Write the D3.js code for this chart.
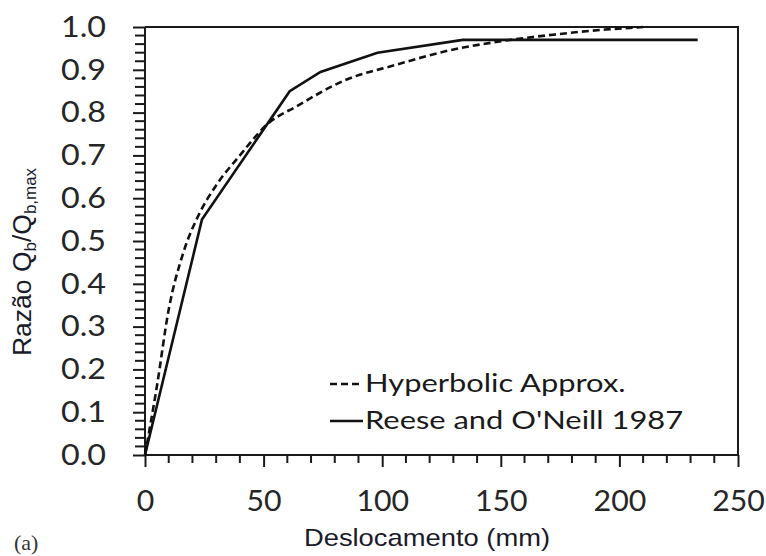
<!DOCTYPE html>
<html>
<head>
<meta charset="utf-8">
<script src="https://cdn.jsdelivr.net/npm/d3@7"></script>
<style>
  body { margin: 0; background: #fff; }
  svg { display: block; }
</style>
</head>
<body>
<div id="chart"></div>
<script>
// values
var hypX = [0, 5, 10, 16, 23, 30, 40, 52, 64, 84, 106, 128, 148, 172, 194, 210];
var hypY = [0, 0.16, 0.34, 0.47, 0.565, 0.63, 0.70, 0.775, 0.815, 0.875, 0.912, 0.945, 0.965, 0.982, 0.994, 1.0];
var reeseX = [0, 24, 61, 74, 98, 134, 233];
var reeseY = [0, 0.55, 0.85, 0.895, 0.94, 0.97, 0.97];
var xTicks = [0, 50, 100, 150, 200, 250];
var yTicks = [0, 0.1, 0.2, 0.3, 0.4, 0.5, 0.6, 0.7, 0.8, 0.9, 1.0];
var legendLabels = ["Hyperbolic Approx.", "Reese and O'Neill 1987"];

var width = 766, height = 556;
var tickFont = "Lato, 'Open Sans', sans-serif";
var titleFont = "'Liberation Sans', Arial, sans-serif";

var svg = d3.select("#chart").append("svg")
  .attr("width", width)
  .attr("height", height);

var x = d3.scaleLinear().domain([0, 250]).range([145, 738]);
var y = d3.scaleLinear().domain([0, 1]).range([455, 27]);

// widen text a bit, the original font is broader than Lato
function stretch(sel, k) {
  sel.each(function () {
    var w = this.getComputedTextLength();
    d3.select(this).attr("textLength", w * k).attr("lengthAdjust", "spacingAndGlyphs");
  });
}

// frame (top and right)
svg.append("path")
  .attr("d", "M" + x(0) + "," + y(1) + "H" + x(250) + "V" + y(0))
  .attr("fill", "none")
  .attr("stroke", "#1a1a1a")
  .attr("stroke-width", 2);

// minor ticks
var xMinor = d3.range(0, 251, 10).filter(function (d) { return d % 50 !== 0; });
var yMinor = d3.range(0, 51, 1).map(function (d) { return d / 50; })
  .filter(function (d) { return Math.round(d * 50) % 5 !== 0; });

var xAxis = svg.append("g")
  .attr("transform", "translate(0," + y(0) + ")")
  .call(d3.axisBottom(x).tickValues(xTicks).tickSize(12).tickPadding(24).tickFormat(d3.format("d")));
xAxis.append("g").selectAll("line")
  .data(xMinor).enter().append("line")
  .attr("x1", d => x(d)).attr("x2", d => x(d))
  .attr("y1", 0).attr("y2", 8)
  .attr("stroke", "#1a1a1a").attr("stroke-width", 2);

var yAxis = svg.append("g")
  .attr("transform", "translate(" + x(0) + ",0)")
  .call(d3.axisLeft(y).tickValues(yTicks).tickSize(12).tickPadding(27).tickFormat(d3.format(".1f")));
yAxis.append("g").selectAll("line")
  .data(yMinor).enter().append("line")
  .attr("y1", d => y(d)).attr("y2", d => y(d))
  .attr("x1", 0).attr("x2", -10)
  .attr("stroke", "#1a1a1a").attr("stroke-width", 2);

[xAxis, yAxis].forEach(function (a) {
  a.select(".domain").attr("stroke", "#1a1a1a").attr("stroke-width", 2);
  a.selectAll(".tick line").attr("stroke", "#1a1a1a").attr("stroke-width", 2);
  a.selectAll(".tick text")
    .attr("fill", "#262626")
    .style("font-family", tickFont)
    .style("font-size", "28px");
});
yAxis.select(".domain").attr("d", "M0," + y(1) + "V" + y(0));
xAxis.select(".domain").attr("d", "M" + x(0) + ",0H" + x(250));
yAxis.selectAll(".tick text").attr("dy", "0.33em");
stretch(xAxis.selectAll(".tick text"), 1.08);
stretch(yAxis.selectAll(".tick text"), 1.15);

// curves
var line = d3.line()
  .x(d => x(d[0]))
  .y(d => y(d[1]));

svg.append("path")
  .datum(d3.zip(hypX, hypY))
  .attr("d", line.curve(d3.curveMonotoneX))
  .attr("fill", "none")
  .attr("stroke", "#111")
  .attr("stroke-width", 2.6)
  .attr("stroke-dasharray", "7,4");

svg.append("path")
  .datum(d3.zip(reeseX, reeseY))
  .attr("d", line.curve(d3.curveLinear))
  .attr("fill", "none")
  .attr("stroke", "#111")
  .attr("stroke-width", 2.6);

// legend
var legend = svg.append("g").attr("transform", "translate(330,0)");
legend.selectAll("line")
  .data(legendLabels).enter().append("line")
  .attr("x1", 0).attr("x2", 33)
  .attr("y1", (d, i) => 384 + i * 37)
  .attr("y2", (d, i) => 384 + i * 37)
  .attr("stroke", "#111")
  .attr("stroke-width", 2.6)
  .attr("stroke-dasharray", (d, i) => i === 0 ? "7,4" : null);
var legendText = legend.selectAll("text")
  .data(legendLabels).enter().append("text")
  .attr("x", 35)
  .attr("y", (d, i) => 392 + i * 37)
  .attr("fill", "#1a1a1a")
  .style("font-family", tickFont)
  .style("font-size", "24.5px")
  .text(d => d);
stretch(legendText, 1.26);

// axis titles
svg.append("text")
  .attr("transform", "translate(427,546) scale(1.14,1)")
  .attr("text-anchor", "middle")
  .attr("fill", "#1a1a2a")
  .style("font-family", titleFont)
  .style("font-size", "24px")
  .text("Deslocamento (mm)");

var yTitle = svg.append("text")
  .attr("transform", "translate(31,262) rotate(-90) scale(1.06,1)")
  .attr("text-anchor", "middle")
  .attr("fill", "#1a1a2a")
  .style("font-family", titleFont)
  .style("font-size", "25px");
yTitle.append("tspan").text("Razão Q");
yTitle.append("tspan").attr("dy", 5).style("font-size", "16px").text("b");
yTitle.append("tspan").attr("dy", -5).text("/Q");
yTitle.append("tspan").attr("dy", 5).style("font-size", "16px").text("b,max");

svg.append("text")
  .attr("x", 14)
  .attr("y", 550)
  .attr("fill", "#333")
  .style("font-family", "'Liberation Serif', 'DejaVu Serif', serif")
  .style("font-size", "22px")
  .text("(a)");
</script>
</body>
</html>
